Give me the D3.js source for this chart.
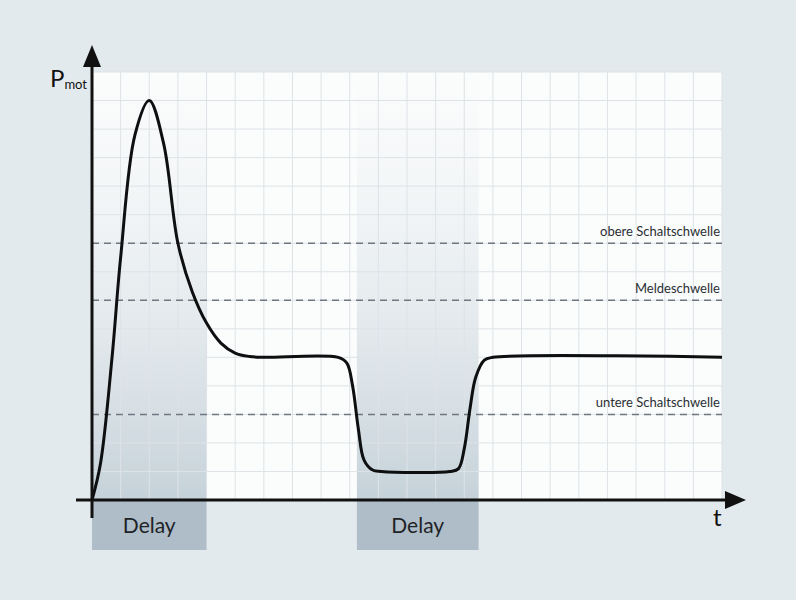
<!DOCTYPE html><html><head><meta charset="utf-8"><script src="https://cdn.jsdelivr.net/npm/d3@7"></script>
<style>body{margin:0;background:#e3eaed}</style></head><body><svg width="796" height="600"></svg><script>
const curveX=[0,0.3,0.7,1,1.5,2,2.5,3,3.5,4,4.5,5,5.5,6,8.6,8.9,9.1,9.3,9.5,9.8,10.1,12.5,12.8,13.0,13.2,13.4,13.7,14.0,22];
const curveY=[0,1.3,5,8.5,12.8,14,12.5,9,7.3,6.2,5.5,5.15,5.03,5,5,4.8,4,2.5,1.4,1.05,1,1,1.1,1.8,3.2,4.3,4.9,5,5];
const thresholdNames=["obere Schaltschwelle","Meldeschwelle","untere Schaltschwelle"];
const thresholdValues=[9,7,3];
const delayStart=[0,9.25];
const delayEnd=[4,13.5];
const delayLabels=["Delay","Delay"];
const svg=d3.select("svg");
const x=d3.scaleLinear().domain([0,22]).range([92,722]);
const y=d3.scaleLinear().domain([0,15]).range([500,72]);
const defs=svg.append("defs");
const g=defs.append("linearGradient").attr("id","gr").attr("x1",0).attr("x2",0).attr("y1",1).attr("y2",0);
g.append("stop").attr("offset",0).attr("stop-color","#bccad3").attr("stop-opacity",0.85);
g.append("stop").attr("offset",1).attr("stop-color","#e3e9ed").attr("stop-opacity",0);
svg.append("rect").attr("x",x(0)).attr("y",y(15)).attr("width",x(22)-x(0)).attr("height",y(0)-y(15)).attr("fill","#fbfcfc");
svg.selectAll(".db").data(delayStart).join("rect").attr("x",d=>x(d)).attr("y",y(15)).attr("width",(d,i)=>x(delayEnd[i])-x(d)).attr("height",y(0)-y(15)).attr("fill","url(#gr)");
const grid=svg.append("g").attr("stroke","#dde3e7").attr("stroke-width",1);
grid.selectAll(".v").data(d3.range(1,23)).join("line").attr("x1",d=>x(d)).attr("x2",d=>x(d)).attr("y1",y(0)).attr("y2",y(15));
grid.selectAll(".h").data(d3.range(1,16)).join("line").attr("x1",x(0)).attr("x2",x(22)).attr("y1",d=>y(d)).attr("y2",d=>y(d));
svg.selectAll(".db2").data(delayStart).join("rect").attr("x",d=>x(d)).attr("y",y(0)).attr("width",(d,i)=>x(delayEnd[i])-x(d)).attr("height",50).attr("fill","#aebdc8");
svg.selectAll(".dl").data(delayStart).join("text").attr("x",(d,i)=>(x(d)+x(delayEnd[i]))/2).attr("y",533).attr("text-anchor","middle").attr("font-family","Lato").attr("font-size",21).attr("fill","#1e2326").text((d,i)=>delayLabels[i]);
svg.selectAll(".th").data(thresholdValues).join("line").attr("x1",x(0)).attr("x2",x(22)).attr("y1",d=>y(d)).attr("y2",d=>y(d)).attr("stroke","#6f7880").attr("stroke-width",1.5).attr("stroke-dasharray","7,5");
svg.selectAll(".tl").data(thresholdValues).join("text").attr("x",720).attr("y",d=>y(d)-7).attr("text-anchor","end").attr("font-family","Lato").attr("font-size",13).attr("fill","#2a2f33").text((d,i)=>thresholdNames[i]);
svg.append("path").datum(curveX.map((d,i)=>[d,curveY[i]])).attr("d",d3.line().x(d=>x(d[0])).y(d=>y(d[1])).curve(d3.curveCatmullRom.alpha(0.5))).attr("fill","none").attr("stroke","#0d0f10").attr("stroke-width",3);
svg.append("line").attr("x1",76).attr("x2",730).attr("y1",500).attr("y2",500).attr("stroke","#111").attr("stroke-width",3);
svg.append("path").attr("d","M725,491 L746,500 L725,509 Z").attr("fill","#111");
svg.append("line").attr("x1",92).attr("x2",92).attr("y1",518).attr("y2",60).attr("stroke","#111").attr("stroke-width",3);
svg.append("path").attr("d","M83,67 L92,45 L101,67 Z").attr("fill","#111");
const pt=svg.append("text").attr("x",50).attr("y",87).attr("font-family","Lato").attr("fill","#111");
pt.append("tspan").attr("font-size",24).text("P");
pt.append("tspan").attr("font-size",13).attr("dy",2).text("mot");
svg.append("text").attr("x",713).attr("y",526).attr("font-family","Lato").attr("font-size",24).attr("fill","#111").text("t");
</script></body></html>
